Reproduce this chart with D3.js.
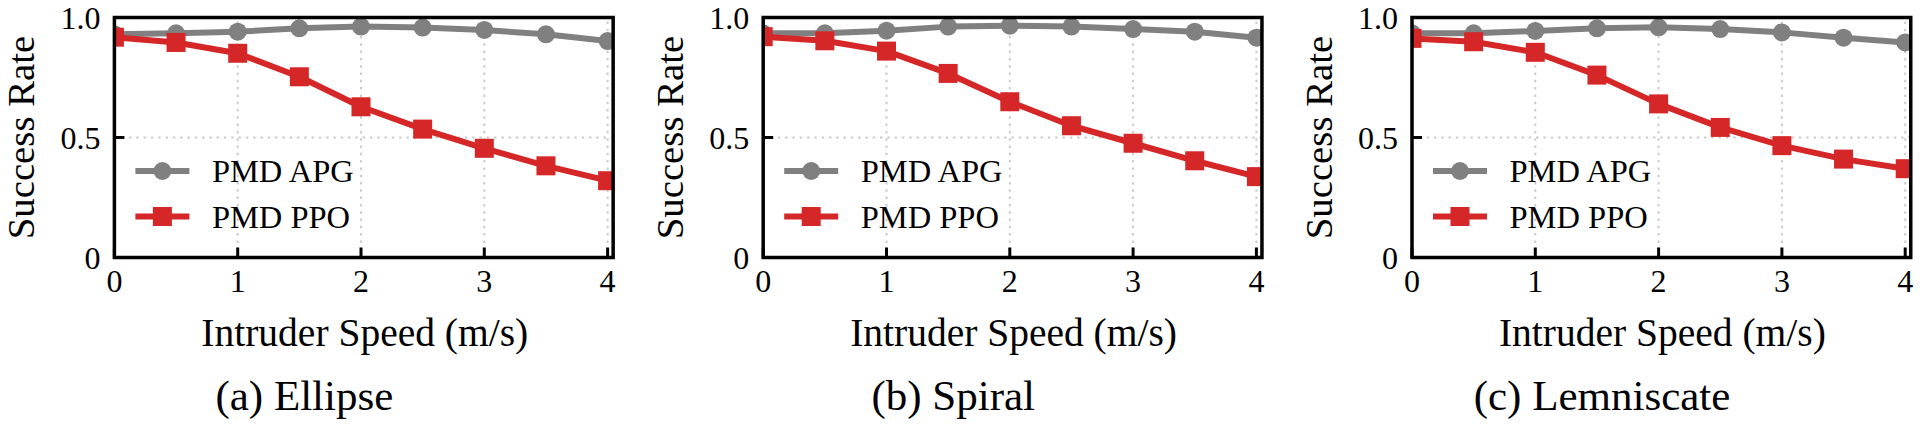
<!DOCTYPE html>
<html>
<head>
<meta charset="utf-8">
<script src="https://cdn.jsdelivr.net/npm/d3@7"></script>
<style>
  html, body { margin: 0; padding: 0; background: #fff; }
</style>
</head>
<body>
<svg id="chart" width="1920" height="426"></svg>
<script>
// ---- data ----
const speeds = [0, 0.5, 1, 1.5, 2, 2.5, 3, 3.5, 4];
const captions = ["(a) Ellipse", "(b) Spiral", "(c) Lemniscate"];
const seriesNames = ["PMD APG", "PMD PPO"];
const apgEllipse = [0.930, 0.934, 0.941, 0.955, 0.962, 0.958, 0.948, 0.930, 0.902];
const ppoEllipse = [0.918, 0.896, 0.851, 0.753, 0.628, 0.535, 0.455, 0.382, 0.320];
const apgSpiral = [0.934, 0.934, 0.945, 0.962, 0.966, 0.962, 0.952, 0.941, 0.916];
const ppoSpiral = [0.920, 0.903, 0.860, 0.767, 0.649, 0.549, 0.476, 0.403, 0.337];
const apgLemniscate = [0.934, 0.934, 0.944, 0.955, 0.959, 0.952, 0.938, 0.916, 0.896];
const ppoLemniscate = [0.913, 0.899, 0.855, 0.760, 0.640, 0.542, 0.466, 0.410, 0.370];
const xTicks = [0, 1, 2, 3, 4];
const yTicks = [0, 0.5, 1.0];
const yTickLabels = ["0", "0.5", "1.0"];
const xLabel = "Intruder Speed (m/s)";
const yLabel = "Success Rate";

const panelData = [
  [apgEllipse, ppoEllipse],
  [apgSpiral, ppoSpiral],
  [apgLemniscate, ppoLemniscate]
];

// ---- style ----
const FONT = "'Liberation Serif'";
const colors = ["#808080", "#d62728"];
const svg = d3.select("#chart");
const unit = 123.3;
const xMax = 4.045;
const panelLeft0 = 114.4;
const panelStep = 648.8;
const yTop = 17.5, yBottom = 257.5;

const txt = (sel) => sel.append("text").style("font-family", FONT).attr("fill", "#000");

panelData.forEach((series, i) => {
  const x0 = panelLeft0 + panelStep * i;
  const x = d3.scaleLinear().domain([0, xMax]).range([x0, x0 + xMax * unit]);
  const y = d3.scaleLinear().domain([0, 1]).range([yBottom, yTop]);
  const g = svg.append("g");
  const clipId = "clip" + i;
  svg.append("clipPath").attr("id", clipId).append("rect")
    .attr("x", x(0)).attr("y", y(1)).attr("width", x(xMax) - x(0)).attr("height", y(0) - y(1));

  // dotted grid
  const grid = g.append("g");
  grid.selectAll(null).data(xTicks.filter(d => d > 0)).join("line")
    .attr("x1", d => x(d)).attr("x2", d => x(d)).attr("y1", y(0)).attr("y2", y(1))
    .attr("stroke", "#cccccc").attr("stroke-width", 2).attr("stroke-dasharray", "2.5,4.8");
  grid.selectAll(null).data(yTicks.filter(d => d > 0 && d < 1)).join("line")
    .attr("x1", x(0)).attr("x2", x(xMax)).attr("y1", d => y(d)).attr("y2", d => y(d))
    .attr("stroke", "#cccccc").attr("stroke-width", 2).attr("stroke-dasharray", "2.5,4.8");

  // series (clipped to axes)
  const plot = g.append("g").attr("clip-path", `url(#${clipId})`);
  const line = d3.line().x((d, k) => x(speeds[k])).y(d => y(d));
  series.forEach((vals, s) => {
    plot.append("path").datum(vals).attr("d", line)
      .attr("fill", "none").attr("stroke", colors[s]).attr("stroke-width", 6)
      .attr("stroke-linejoin", "round");
    if (s === 0) {
      plot.selectAll(null).data(vals).join("circle")
        .attr("cx", (d, k) => x(speeds[k])).attr("cy", d => y(d)).attr("r", 9)
        .attr("fill", colors[s]);
    } else {
      plot.selectAll(null).data(vals).join("rect")
        .attr("x", (d, k) => x(speeds[k]) - 9.5).attr("y", d => y(d) - 9.5)
        .attr("width", 19).attr("height", 19).attr("fill", colors[s]);
    }
  });

  // inward ticks
  g.selectAll(null).data(xTicks).join("line")
    .attr("x1", d => x(d)).attr("x2", d => x(d)).attr("y1", y(0)).attr("y2", y(0) - 10)
    .attr("stroke", "#000").attr("stroke-width", 3);
  g.selectAll(null).data(yTicks).join("line")
    .attr("x1", x(0)).attr("x2", x(0) + 10).attr("y1", d => y(d)).attr("y2", d => y(d))
    .attr("stroke", "#000").attr("stroke-width", 3);

  // frame
  g.append("rect").attr("x", x(0)).attr("y", y(1))
    .attr("width", x(xMax) - x(0)).attr("height", y(0) - y(1))
    .attr("fill", "none").attr("stroke", "#000").attr("stroke-width", 3.5);

  // tick labels
  xTicks.forEach(d => {
    txt(g).attr("x", x(d)).attr("y", y(0) + 34.5).attr("text-anchor", "middle")
      .attr("font-size", 32).text(String(d));
  });
  yTicks.forEach((d, k) => {
    txt(g).attr("x", x(0) - 14).attr("y", y(d) + 11.5).attr("text-anchor", "end")
      .attr("font-size", 32).text(yTickLabels[k]);
  });

  // axis labels
  txt(g).attr("x", (x(0) + x(xMax)) / 2 + 1).attr("y", 346)
    .attr("text-anchor", "middle").attr("font-size", 39.5).text(xLabel);
  txt(g).attr("transform", `translate(${x(0) - 80},${(y(0) + y(1)) / 2}) rotate(-90)`)
    .attr("text-anchor", "middle").attr("font-size", 38.8).text(yLabel);

  // caption
  txt(g).attr("x", x(0) + 190).attr("y", 410)
    .attr("text-anchor", "middle").attr("font-size", 43).text(captions[i]);

  // legend
  const leg = g.append("g");
  seriesNames.forEach((name, s) => {
    const cy = 171 + s * 45.5;
    const mx = x(0) + 48;
    leg.append("line").attr("x1", mx - 27).attr("x2", mx + 27).attr("y1", cy).attr("y2", cy)
      .attr("stroke", colors[s]).attr("stroke-width", 6);
    if (s === 0) {
      leg.append("circle").attr("cx", mx).attr("cy", cy).attr("r", 9).attr("fill", colors[s]);
    } else {
      leg.append("rect").attr("x", mx - 9.5).attr("y", cy - 9.5).attr("width", 19).attr("height", 19)
        .attr("fill", colors[s]);
    }
    txt(leg).attr("x", x(0) + 97.5).attr("y", cy + 11).attr("font-size", 32.5).text(name);
  });
});
</script>
</body>
</html>
